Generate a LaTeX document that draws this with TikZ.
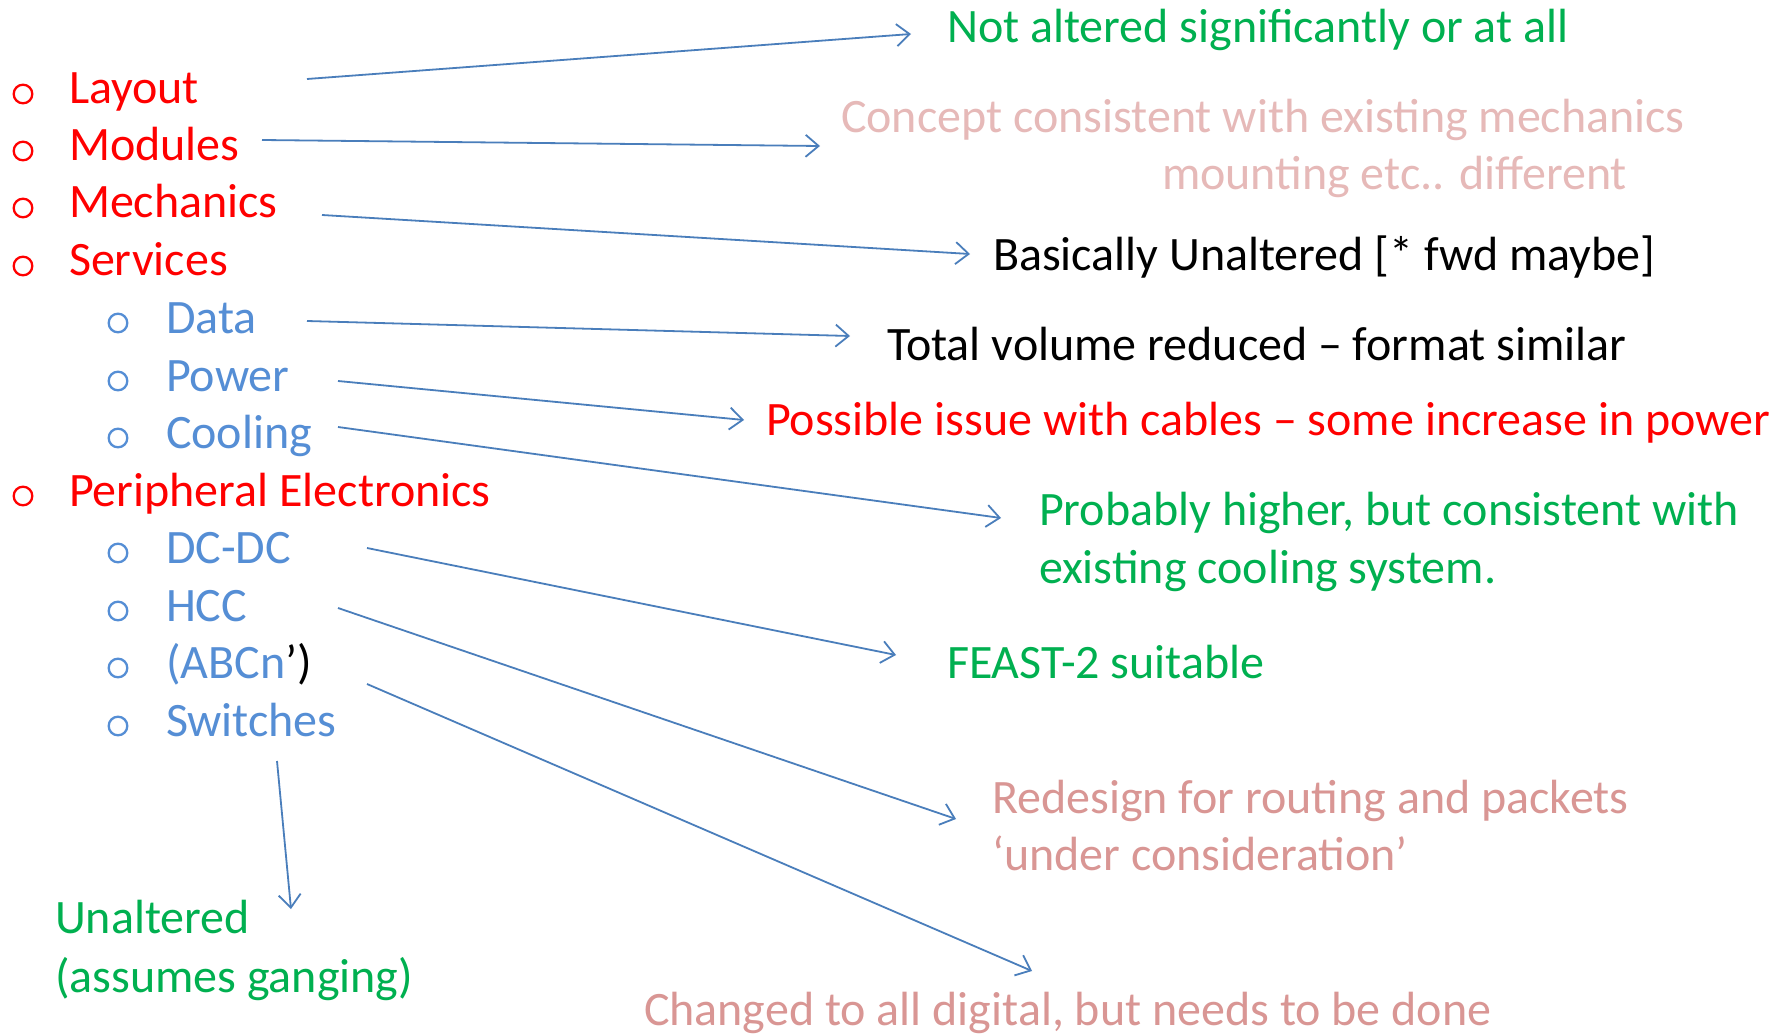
\documentclass[tikz,border=0pt]{standalone}
\usepackage{fontspec}
\setmainfont{Carlito}
\usetikzlibrary{arrows.meta}

\definecolor{itemred}{HTML}{FF0000}
\definecolor{itemblue}{HTML}{558ED5}
\definecolor{okgreen}{HTML}{00B050}
\definecolor{softpink}{HTML}{E6B9B8}
\definecolor{rosepink}{HTML}{D99694}
\definecolor{linkblue}{HTML}{4A7EBB}

\tikzset{
  txt/.style={anchor=base west, inner sep=0pt, outer sep=0pt,
    font=\fontsize{48}{57}\selectfont},
  topitem/.style={txt, text=itemred},
  subitem/.style={txt, text=itemblue},
  topbullet/.style={draw=itemred, line width=2.3pt},
  subbullet/.style={draw=itemblue, line width=2.3pt},
  link/.style={draw=linkblue, line width=1.8pt,
    -{Straight Barb[length=13pt,width=22pt,line width=1.8pt]}},
}

\begin{document}
\begin{tikzpicture}[x=1pt,y=-1pt]
\useasboundingbox[fill=white] (0,0) rectangle (1786,1035);

% ---- list of items ----
\foreach \yb in {104,161,218,276,506}
  \draw[topbullet] (23,\yb-10) circle (9.3);
\foreach \yb in {333,391,448,563,621,678,736}
  \draw[subbullet] (118,\yb-10) circle (9.3);

\node[topitem] (layout)    at (69,104) {Layout};
\node[topitem] (modules)   at (69,161) {Modules};
\node[topitem] (mechanics) at (69,218) {Mechanics};
\node[topitem] (services)  at (69,276) {Services};
\node[subitem] (data)      at (166,333) {Data};
\node[subitem] (power)     at (166,391) {Power};
\node[subitem] (cooling)   at (166,448) {Cooling};
\node[topitem] (periph)    at (69,506) {Peripheral Electronics};
\node[subitem] (dcdc)      at (166,563) {DC-DC};
\node[subitem] (hcc)       at (166,621) {HCC};
\node[subitem] (abcn)      at (166,678) {(ABCn\textcolor{black}{’)}};
\node[subitem] (switches)  at (166,736) {Switches};

% ---- comments ----
\node[txt, text=okgreen]  (c-layout)  at (947,43)  {Not altered significantly or at all};
\node[txt, text=softpink] (c-mod1)    at (841,133) {Concept consistent with existing mechanics};
\node[txt, text=softpink] (c-mod2)    at (1162,190) {mounting etc.. different};
\node[txt, text=black]    (c-mech)    at (993,270) {Basically Unaltered [* fwd maybe]};
\node[txt, text=black]    (c-data)    at (887,360) {Total volume reduced – format similar};
\node[txt, text=itemred]  (c-power)   at (766,435) {Possible issue with cables – some increase in power};
\node[txt, text=okgreen]  (c-cool1)   at (1039,525) {Probably higher, but consistent with};
\node[txt, text=okgreen]  (c-cool2)   at (1039,583) {existing cooling system.};
\node[txt, text=okgreen]  (c-dcdc)    at (947,678) {FEAST-2 suitable};
\node[txt, text=rosepink] (c-hcc1)    at (992,813) {Redesign for routing and packets};
\node[txt, text=rosepink] (c-hcc2)    at (992,870) {‘under consideration’};
\node[txt, text=okgreen]  (c-sw1)     at (55,933)  {Unaltered};
\node[txt, text=okgreen]  (c-sw2)     at (55,992)  {(assumes ganging)};
\node[txt, text=rosepink] (c-abcn)    at (644,1025) {Changed to all digital, but needs to be done};

% ---- connector ends ----
\coordinate (s-layout)  at (307,79);
\coordinate (e-layout)  at (911,34);
\coordinate (s-modules) at (262,140);
\coordinate (e-modules) at (820,146);
\coordinate (s-mech)    at (322,215);
\coordinate (e-mech)    at (970,254);
\coordinate (s-data)    at (307,321);
\coordinate (e-data)    at (850,336);
\coordinate (s-power)   at (338,381);
\coordinate (e-power)   at (744,420);
\coordinate (s-cool)    at (338,427);
\coordinate (e-cool)    at (1001,518);
\coordinate (s-dcdc)    at (367,548);
\coordinate (e-dcdc)    at (896,655);
\coordinate (s-hcc)     at (338,608);
\coordinate (e-hcc)     at (956,819);
\coordinate (s-abcn)    at (367,684);
\coordinate (e-abcn)    at (1032,971);
\coordinate (s-sw)      at (277,761);
\coordinate (e-sw)      at (291,909);

% ---- connectors ----
\draw[link] (s-layout)  -- (e-layout);
\draw[link] (s-modules) -- (e-modules);
\draw[link] (s-mech)    -- (e-mech);
\draw[link] (s-data)    -- (e-data);
\draw[link] (s-power)   -- (e-power);
\draw[link] (s-cool)    -- (e-cool);
\draw[link] (s-dcdc)    -- (e-dcdc);
\draw[link] (s-hcc)     -- (e-hcc);
\draw[link] (s-abcn)    -- (e-abcn);
\draw[link] (s-sw)      -- (e-sw);
\end{tikzpicture}
\end{document}
